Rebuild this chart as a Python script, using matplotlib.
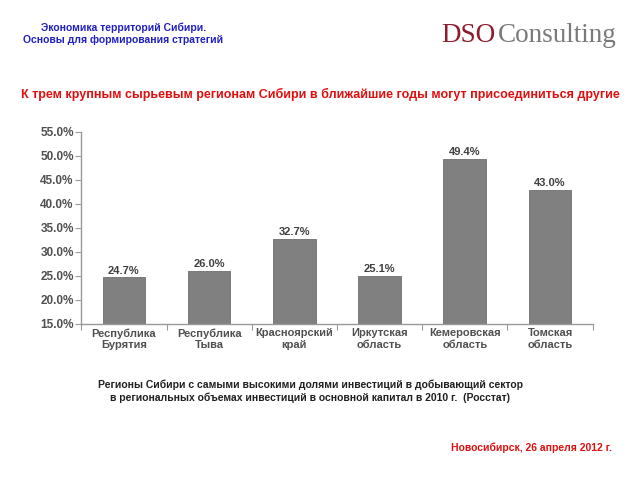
import numpy as np
import matplotlib.pyplot as plt
from matplotlib.ticker import FuncFormatter

plt.rcParams['font.family'] = ['Liberation Sans', 'DejaVu Sans']

regions = ['Республика\nБурятия', 'Республика\nТыва', 'Красноярский\nкрай',
           'Иркутская\nобласть', 'Кемеровская\nобласть', 'Томская\nобласть']
shares = [24.7, 26.0, 32.7, 25.1, 49.4, 43.0]
yticks = [15, 20, 25, 30, 35, 40, 45, 50, 55]

fig = plt.figure(figsize=(6.4, 4.8), dpi=100)
ax = fig.add_axes([0.127, 0.325, 0.799, 0.40])

x = np.arange(len(regions))
ax.bar(x, [v - 15 for v in shares], bottom=15, width=0.5,
       color='#808080', edgecolor='#6e6e6e', linewidth=0.6)
for xi, v in zip(x, shares):
    ax.text(xi, v + 0.4, f'{v:.1f}%', ha='center', va='bottom',
            fontsize=8, fontweight='bold', color='#404040')

ax.set_xlim(-0.5, len(regions) - 0.5)
ax.set_ylim(15, 55)
ax.set_yticks(yticks)
ax.yaxis.set_major_formatter(FuncFormatter(lambda v, p: f'{v:.1f}%'))
ax.set_xticks(np.arange(len(regions) + 1) - 0.5)
ax.set_xticklabels([])
ax.set_xticks(x, minor=True)
ax.set_xticklabels(regions, minor=True, fontsize=8, fontweight='bold', color='#505050')
ax.tick_params(axis='x', which='major', length=4, color='#999999')
ax.tick_params(axis='x', which='minor', length=0, pad=3)
ax.tick_params(axis='y', length=4, pad=1.5, color='#999999', labelsize=8.5,
               labelcolor='#505050')
for lbl in ax.get_yticklabels():
    lbl.set_fontweight('bold')
for s in ['top', 'right']:
    ax.spines[s].set_visible(False)
for s in ['left', 'bottom']:
    ax.spines[s].set_color('#999999')
    ax.spines[s].set_linewidth(1.0)

fig.text(0.193, 0.93, 'Экономика территорий Сибири.\nОсновы для формирования стратегий',
         ha='center', va='center', fontsize=7.5, fontweight='bold', color='#2020c0',
         linespacing=1.25)
fig.text(0.689, 0.925, 'DSO', ha='left', va='center', fontsize=19.5,
         family='Liberation Serif', color='#8b1c2c')
fig.text(0.778, 0.925, 'Consulting', ha='left', va='center', fontsize=19.5,
         family='Liberation Serif', color='#7a7a7a')
fig.text(0.5, 0.803, 'К трем крупным сырьевым регионам Сибири в ближайшие годы могут присоединиться другие',
         ha='center', va='center', fontsize=9, fontweight='bold', color='#e01010')
fig.text(0.485, 0.185, 'Регионы Сибири с самыми высокими долями инвестиций в добывающий сектор\n'
         'в региональных объемах инвестиций в основной капитал в 2010 г.  (Росстат)',
         ha='center', va='center', fontsize=7.5, fontweight='bold', color='#202020',
         linespacing=1.3)
fig.text(0.957, 0.068, 'Новосибирск, 26 апреля 2012 г.', ha='right', va='center',
         fontsize=7.5, fontweight='bold', color='#e01010')

fig.savefig('out.png', dpi=100)
